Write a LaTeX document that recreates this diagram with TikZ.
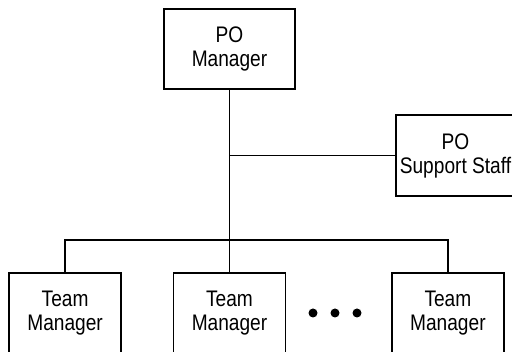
\documentclass[tikz,border=0pt]{standalone}
\usepackage{fontspec}
\newfontfamily\orgfont[FakeStretch=0.85]{Liberation Sans}
\usetikzlibrary{positioning}

\begin{document}
\begin{tikzpicture}[
    x=1pt, y=1pt,
    every node/.style={inner sep=2pt},
    box/.style={draw, line width=1.4pt, minimum width=112pt, minimum height=80pt,
        align=center, font=\orgfont\fontsize{22.5}{24}\selectfont},
    dot/.style={circle, fill, inner sep=0pt, minimum size=9pt},
    link/.style={line width=1.4pt}
]
\useasboundingbox (0,0) rectangle (512,352);

% Jefe arriba
\node[box, minimum width=131pt] (po) at (229.5,303)
    {PO\\Manager};

% Fila de abajo: los equipos
\node[box] (team2) at (229.5,39)
    {Team\\Manager};

\node[box, left=51pt of team2] (team1)
    {Team\\Manager};

\node[box, right=105pt of team2] (team3)
    {Team\\Manager};

% Puntos entre equipos
\foreach \i/\x in {1/313,2/335,3/357}
    \node[dot] (dot\i) at (\x,39) {};

% Apoyo a la derecha
\node[box, minimum width=119pt, minimum height=81pt] (staff) at (455.5,196.5)
    {PO\\Support Staff};

% Lineas
\coordinate (bus) at (po.south |- 0,112);
\draw[link] (po.south) -- (bus) -- (team2.north);
\draw[link] (team1.north) |- (bus) -| (team3.north);
\draw[link] (po.south |- staff.west) -- (staff.west);

\end{tikzpicture}
\end{document}
